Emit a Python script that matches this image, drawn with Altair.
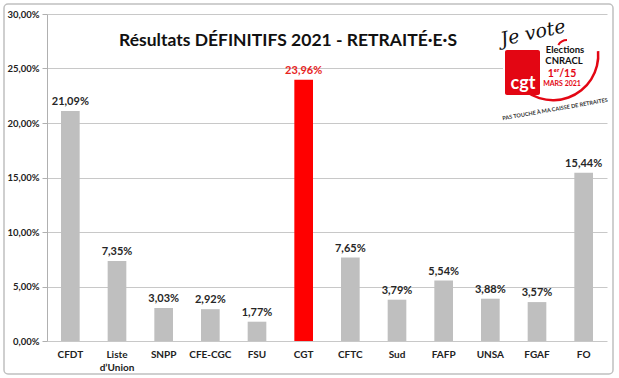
import altair as alt
import pandas as pd
import math

categories = ["CFDT", "Liste d’Union", "SNPP", "CFE-CGC", "FSU", "CGT",
              "CFTC", "Sud", "FAFP", "UNSA", "FGAF", "FO"]
values = [21.09, 7.35, 3.03, 2.92, 1.77, 23.96, 7.65, 3.79, 5.54, 3.88, 3.57, 15.44]
highlight = "CGT"
title_text = "Résultats DÉFINITIFS 2021 - RETRAITÉ·E·S"
y_ticks = [0, 5, 10, 15, 20, 25, 30]

df = pd.DataFrame({"cat": categories, "val": values})
df["label"] = [f"{v:.2f}".replace(".", ",") + "%" for v in values]
df["hl"] = [c == highlight for c in categories]

FONT = "Lato"
one = pd.DataFrame({"k": [0]})

x = alt.X("cat:N", sort=categories,
          scale=alt.Scale(paddingInner=0.6, paddingOuter=0.3),
          axis=alt.Axis(title=None, labelAngle=0, labelFont=FONT, labelFontWeight="bold",
                        labelFontSize=10, labelColor="#222", domain=False, ticks=False,
                        labelPadding=8, labelLineHeight=13,
                        labelExpr="split(datum.label, ' ')"))
y = alt.Y("val:Q", scale=alt.Scale(domain=[0, 30], nice=False),
          axis=alt.Axis(title=None, values=y_ticks, labelFont=FONT, labelFontWeight="bold",
                        labelFontSize=9.5, labelColor="#222", grid=True, gridColor="#c8c8c8",
                        domainColor="#b0b0b0", tickColor="#b0b0b0", tickSize=5, labelPadding=3,
                        labelExpr="replace(format(datum.value, '.2f'), '.', ',') + '%'"))

base = alt.Chart(df)
bars = base.mark_bar().encode(
    x=x, y=y,
    color=alt.condition("datum.hl", alt.value("#ff0000"), alt.value("#bfbfbf")))
labels = base.mark_text(dy=-9, font=FONT, fontWeight="bold", fontSize=11).encode(
    x=x, y=y, text="label:N",
    color=alt.condition("datum.hl", alt.value("#e8231c"), alt.value("#262626")))

frame = alt.Chart(one).mark_rect(fill=None, stroke="#c0c0c0", strokeWidth=1.5, cornerRadius=4).encode(
    x=alt.value(-43), x2=alt.value(566), y=alt.value(-10), y2=alt.value(360))

title = alt.Chart(one).mark_text(text=title_text, font=FONT, fontWeight="bold", fontSize=17.5,
                                 color="#111").encode(x=alt.value(241), y=alt.value(27))

# logo approximation
RED = "#e30613"
logo_bg = alt.Chart(one).mark_rect(fill="white").encode(
    x=alt.value(456), x2=alt.value(562), y=alt.value(1), y2=alt.value(106))
arc = alt.Chart(one).mark_arc(innerRadius=44, outerRadius=46.5, color=RED).encode(
    x=alt.value(506), y=alt.value(41),
    theta=alt.value(math.radians(85)), theta2=alt.value(math.radians(235)))
je_vote = alt.Chart(one).mark_text(text="Je vote", font="DejaVu Serif", fontStyle="italic",
                                   fontSize=19, color="#111", angle=348).encode(
    x=alt.value(486), y=alt.value(19))
swoosh = alt.Chart(one).mark_arc(innerRadius=9, outerRadius=11, color=RED).encode(
    x=alt.value(520), y=alt.value(36),
    theta=alt.value(math.radians(300)), theta2=alt.value(math.radians(360)))
cgt_box = alt.Chart(one).mark_rect(fill=RED, cornerRadius=2).encode(
    x=alt.value(458), x2=alt.value(493), y=alt.value(36), y2=alt.value(81))
cgt_txt = alt.Chart(one).mark_text(text="cgt", font=FONT, fontWeight="bold", fontSize=18,
                                   color="white").encode(x=alt.value(476), y=alt.value(70))
elec = alt.Chart(one).mark_text(text="Elections", font=FONT, fontWeight="bold", fontSize=9.5,
                                color="#111").encode(x=alt.value(518), y=alt.value(35.5))
cnr = alt.Chart(one).mark_text(text="CNRACL", font=FONT, fontWeight="bold", fontSize=9.5,
                               color="#111").encode(x=alt.value(517), y=alt.value(47))
d1 = alt.Chart(one).mark_text(text="1ᵉʳ/15", font=FONT, fontWeight="bold", fontSize=10.5,
                              color=RED).encode(x=alt.value(515), y=alt.value(60))
d2 = alt.Chart(one).mark_text(text="MARS 2021", font=FONT, fontWeight="bold",
                              fontSize=7, color=RED).encode(x=alt.value(515), y=alt.value(70))
slog = alt.Chart(one).mark_text(text="PAS TOUCHE À MA CAISSE DE RETRAITES", font=FONT,
                                fontWeight="bold", fontSize=5.5, color="#333", angle=350).encode(
    x=alt.value(508), y=alt.value(95))

chart = alt.layer(bars, labels, frame, title, logo_bg, arc, je_vote, swoosh, cgt_box, cgt_txt,
                  elec, cnr, d1, d2, slog).properties(
    width=560, height=327,
    autosize=alt.AutoSizeParams(type="none"),
    padding={"left": 47, "top": 14, "right": 12, "bottom": 37},
    background="white",
).configure_view(stroke=None)

chart.save("out.html", embed_options={"renderer": "svg", "actions": False})
